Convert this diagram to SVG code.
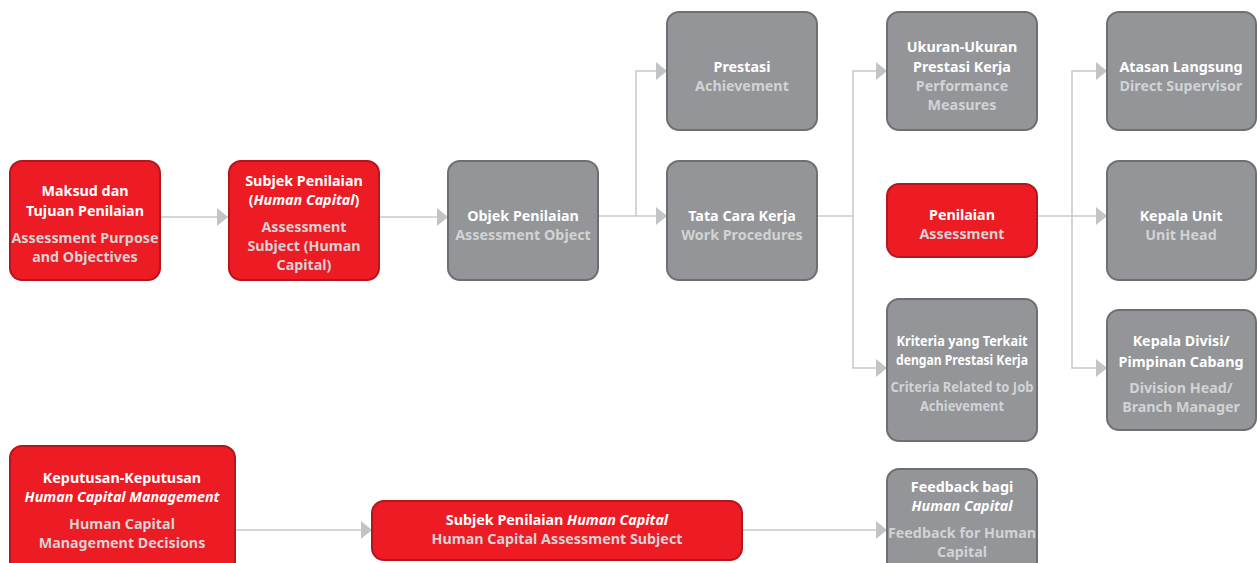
<svg xmlns="http://www.w3.org/2000/svg" width="1257" height="563" viewBox="0 0 1257 563">
  <style>
    .red { fill: #ED1C24; stroke: #B3161D; stroke-width: 2; }
    .gray { fill: #939598; stroke: #6E6F72; stroke-width: 2; }
    text { font-family: "Noto Sans", "Liberation Sans", sans-serif; font-size: 14.3px; font-weight: bold; text-anchor: middle; }
    .t { fill: #FFFFFF; }
    .s { fill: #D1D3D4; }
    .i { font-style: italic; }
    .link { fill: none; stroke: #C7C8CA; stroke-width: 1.5; }
    .head { fill: #C2C3C5; }
  </style>
  <defs>
    <marker id="arrow" viewBox="0 0 11 18" refX="11" refY="9" markerWidth="11" markerHeight="18" markerUnits="userSpaceOnUse" orient="auto">
      <path class="head" d="M0,0 L11,9 L0,18 Z"/>
    </marker>
  </defs>

  <!-- connectors -->
  <g id="connectors">
    <path class="link" d="M160,217 H228" marker-end="url(#arrow)"/>
    <path class="link" d="M379,217 H448" marker-end="url(#arrow)"/>
    <path class="link" d="M598,216 H667" marker-end="url(#arrow)"/>
    <path class="link" d="M636,216 V71 H667" marker-end="url(#arrow)"/>
    <path class="link" d="M817,216 H853"/>
    <path class="link" d="M853,216 V71 H887" marker-end="url(#arrow)"/>
    <path class="link" d="M853,216 V368 H887" marker-end="url(#arrow)"/>
    <path class="link" d="M1037,216 H1107" marker-end="url(#arrow)"/>
    <path class="link" d="M1072,216 V71 H1107" marker-end="url(#arrow)"/>
    <path class="link" d="M1072,216 V368 H1107" marker-end="url(#arrow)"/>
    <path class="link" d="M235,530 H372" marker-end="url(#arrow)"/>
    <path class="link" d="M742,530 H887" marker-end="url(#arrow)"/>
  </g>

  <g id="maksud">
    <rect class="red" x="10" y="161" width="150" height="119" rx="12"/>
    <text class="t" x="85" y="196">Maksud dan</text>
    <text class="t" x="85" y="216">Tujuan Penilaian</text>
    <text class="s" x="85" y="243">Assessment Purpose</text>
    <text class="s" x="85" y="262">and Objectives</text>
  </g>

  <g id="subjek">
    <rect class="red" x="229" y="161" width="150" height="119" rx="12"/>
    <text class="t" x="304" y="186">Subjek Penilaian</text>
    <text class="t" x="304" y="205">(<tspan class="i">Human Capital</tspan>)</text>
    <text class="s" x="304" y="232">Assessment</text>
    <text class="s" x="304" y="251">Subject (Human</text>
    <text class="s" x="304" y="270">Capital)</text>
  </g>

  <g id="objek">
    <rect class="gray" x="448" y="161" width="150" height="119" rx="12"/>
    <text class="t" x="523" y="221">Objek Penilaian</text>
    <text class="s" x="523" y="240">Assessment Object</text>
  </g>

  <g id="prestasi">
    <rect class="gray" x="667" y="12" width="150" height="118" rx="12"/>
    <text class="t" x="742" y="72">Prestasi</text>
    <text class="s" x="742" y="91">Achievement</text>
  </g>

  <g id="tata-cara">
    <rect class="gray" x="667" y="161" width="150" height="119" rx="12"/>
    <text class="t" x="742" y="221">Tata Cara Kerja</text>
    <text class="s" x="742" y="240">Work Procedures</text>
  </g>

  <g id="ukuran">
    <rect class="gray" x="887" y="12" width="150" height="118" rx="12"/>
    <text class="t" x="962" y="52">Ukuran-Ukuran</text>
    <text class="t" x="962" y="72">Prestasi Kerja</text>
    <text class="s" x="962" y="91">Performance</text>
    <text class="s" x="962" y="110">Measures</text>
  </g>

  <g id="penilaian">
    <rect class="red" x="887" y="184" width="150" height="73" rx="12"/>
    <text class="t" x="962" y="220">Penilaian</text>
    <text class="s" x="962" y="239">Assessment</text>
  </g>

  <g id="kriteria">
    <rect class="gray" x="887" y="299" width="150" height="142" rx="12"/>
    <text class="t" x="962" y="346" textLength="131" lengthAdjust="spacingAndGlyphs">Kriteria yang Terkait</text>
    <text class="t" x="962" y="365" textLength="132" lengthAdjust="spacingAndGlyphs">dengan Prestasi Kerja</text>
    <text class="s" x="962" y="392" textLength="143" lengthAdjust="spacingAndGlyphs">Criteria Related to Job</text>
    <text class="s" x="962" y="411" textLength="84" lengthAdjust="spacingAndGlyphs">Achievement</text>
  </g>

  <g id="atasan">
    <rect class="gray" x="1107" y="12" width="149" height="118" rx="12"/>
    <text class="t" x="1181" y="72">Atasan Langsung</text>
    <text class="s" x="1181" y="91">Direct Supervisor</text>
  </g>

  <g id="kepala-unit">
    <rect class="gray" x="1107" y="161" width="149" height="119" rx="12"/>
    <text class="t" x="1181" y="221">Kepala Unit</text>
    <text class="s" x="1181" y="240">Unit Head</text>
  </g>

  <g id="kepala-divisi">
    <rect class="gray" x="1107" y="310" width="149" height="120" rx="12"/>
    <text class="t" x="1181" y="346">Kepala Divisi/</text>
    <text class="t" x="1181" y="367">Pimpinan Cabang</text>
    <text class="s" x="1181" y="393">Division Head/</text>
    <text class="s" x="1181" y="412">Branch Manager</text>
  </g>

  <g id="keputusan">
    <rect class="red" x="10" y="446" width="225" height="130" rx="12"/>
    <text class="t" x="122" y="483">Keputusan-Keputusan</text>
    <text class="t i" x="122" y="502">Human Capital Management</text>
    <text class="s" x="122" y="529">Human Capital</text>
    <text class="s" x="122" y="548">Management Decisions</text>
  </g>

  <g id="subjek-hc">
    <rect class="red" x="372" y="501" width="370" height="59" rx="12"/>
    <text class="t" x="557" y="525">Subjek Penilaian <tspan class="i">Human Capital</tspan></text>
    <text class="s" x="557" y="544">Human Capital Assessment Subject</text>
  </g>

  <g id="feedback">
    <rect class="gray" x="887" y="469" width="150" height="110" rx="12"/>
    <text class="t" x="962" y="492">Feedback bagi</text>
    <text class="t i" x="962" y="511">Human Capital</text>
    <text class="s" x="962" y="538">Feedback for Human</text>
    <text class="s" x="962" y="557">Capital</text>
  </g>
</svg>
